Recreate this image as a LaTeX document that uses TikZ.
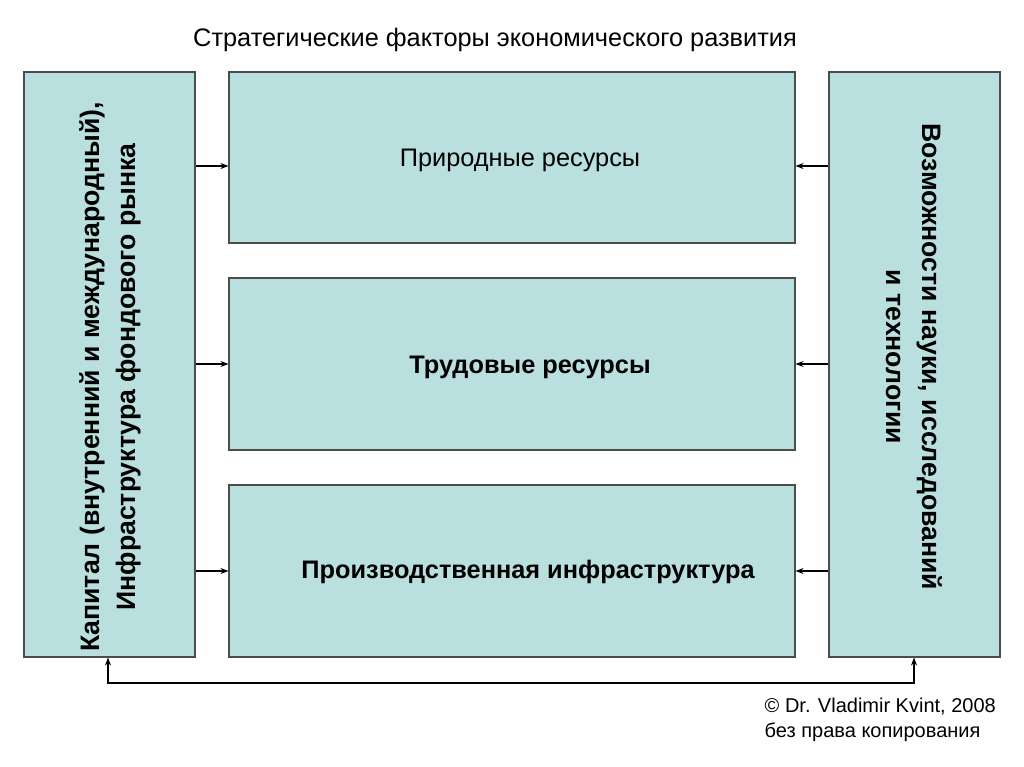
\documentclass[tikz,border=0pt]{standalone}
\usepackage{fontspec}
\setmainfont{Liberation Sans}
\usetikzlibrary{arrows.meta}
\definecolor{boxfill}{HTML}{B9DFDF}
\begin{document}
\begin{tikzpicture}[x=0.75pt,y=-0.75pt]
  \tikzset{factor/.style={draw=black!70,fill=boxfill,line width=0.8pt},
           feeds/.style={-{Stealth[length=6pt]},line width=0.8pt}}
  \useasboundingbox (0,0) rectangle (1024,767);
  \node[font=\fontsize{19}{22}\selectfont] (title) at (495,40) {Стратегические факторы экономического развития};
  \node[factor,minimum width=128.25pt,minimum height=438.75pt] (capital) at (109.5,364.5) {};
  \node[factor,minimum width=128.25pt,minimum height=438.75pt] (science) at (914.5,364.5) {};
  \node[factor,minimum width=424.5pt,minimum height=128.25pt] (nature) at (512,157.5) {};
  \node[factor,minimum width=424.5pt,minimum height=129pt] (labour) at (512,364) {};
  \node[factor,minimum width=424.5pt,minimum height=129pt] (infra) at (512,571) {};
  \node[font=\fontsize{19}{22}\selectfont] at (520,160) {Природные ресурсы};
  \node[font=\bfseries\fontsize{19}{22}\selectfont] at (530,367) {Трудовые ресурсы};
  \node[font=\bfseries\fontsize{19}{22}\selectfont] at (528,572) {Производственная инфраструктура};
  \node[rotate=90,align=center,font=\bfseries\fontsize{20}{27}\selectfont] at (110,377) {Капитал (внутренний и международный),\\Инфраструктура фондового рынка};
  \node[rotate=-90,align=center,font=\bfseries\fontsize{20}{27}\selectfont] at (914,357) {Возможности науки, исследований\\и технологии};
  \foreach \y/\m in {166/nature,364/labour,571/infra} {
    \draw[feeds] (capital.east |- 0,\y) -- (\m.west |- 0,\y);
    \draw[feeds] (science.west |- 0,\y) -- (\m.east |- 0,\y);
  }
  \coordinate (lb) at (108,683);
  \coordinate (rb) at (914,683);
  \draw[feeds,{Stealth[length=6pt]}-{Stealth[length=6pt]}] (capital.south -| lb) -- (lb) -- (rb) -- (science.south -| rb);
  \node[anchor=west,align=left,font=\fontsize{15}{19}\selectfont] (copy) at (760,720) {© Dr. Vladimir Kvint, 2008\\без права копирования};
\end{tikzpicture}
\end{document}
